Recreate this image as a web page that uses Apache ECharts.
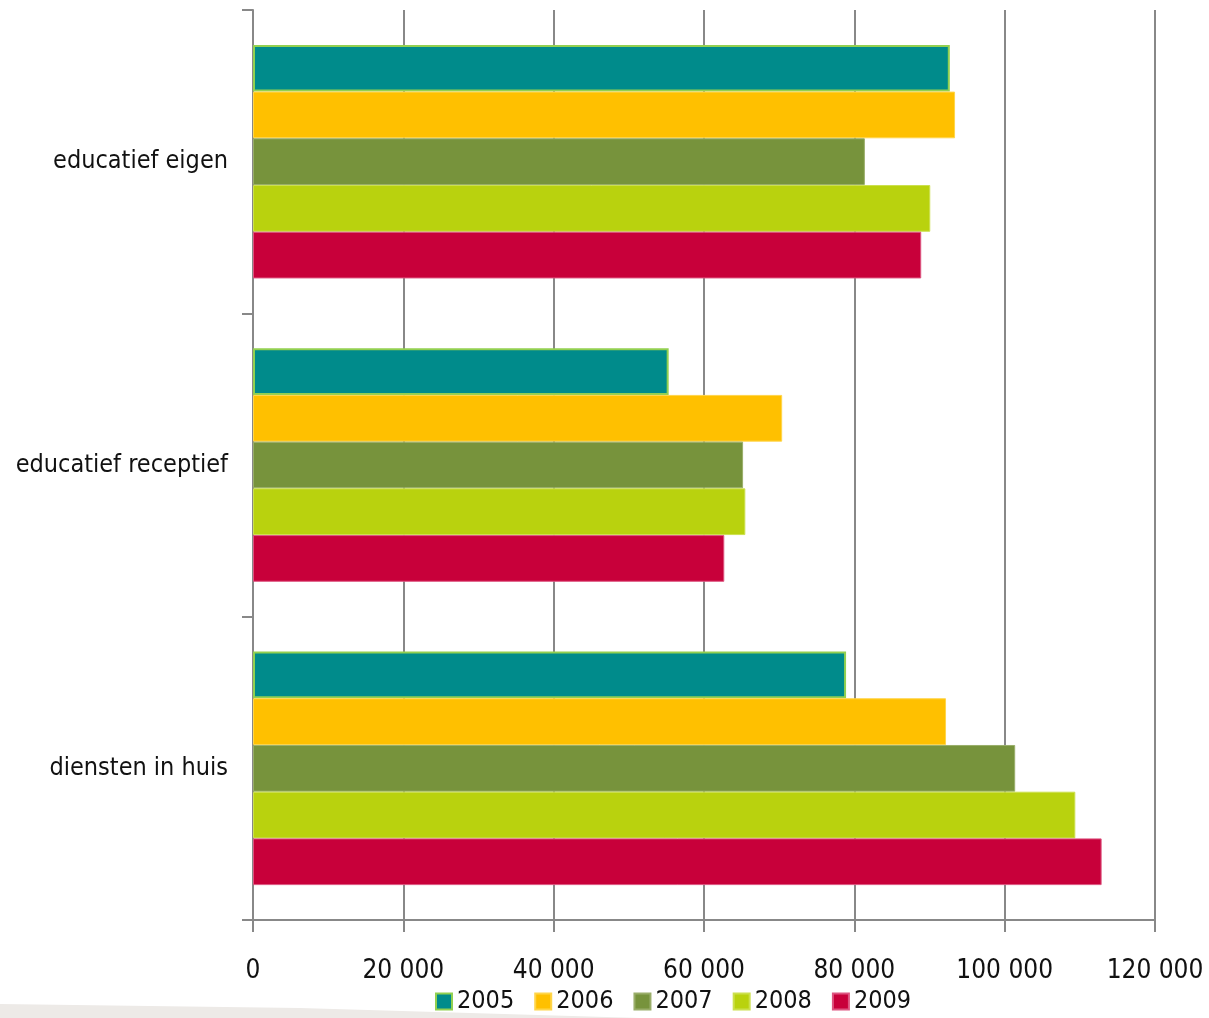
<!DOCTYPE html>
<html><head><meta charset="utf-8">
<script src="https://cdn.jsdelivr.net/npm/echarts@6/dist/echarts.min.js"></script>
<style>html,body{margin:0;padding:0;background:#fff}#c{width:1209px;height:1018px}</style>
</head><body><div id="c"></div>
<script>
const categories = ["educatief eigen", "educatief receptief", "diensten in huis"];
const years = ["2005", "2006", "2007", "2008", "2009"];
const v2005 = [92700, 55300, 78900];
const v2006 = [93400, 70400, 92200];
const v2007 = [81400, 65200, 101400];
const v2008 = [90100, 65500, 109400];
const v2009 = [88900, 62700, 112900];
const xTicks = [0, 20000, 40000, 60000, 80000, 100000, 120000];

const values = [v2005, v2006, v2007, v2008, v2009];
const colors = ["#008B8B", "#FFC000", "#77933C", "#B9D20E", "#C8003A"];
const borders = ["#92D050", "#FFD54A", "#9AAE6A", "#CCE04E", "#DD5580"];
const font = "'Liberation Sans Narrow', 'DejaVu Sans Condensed', 'Open Sans', sans-serif";
const axisGray = "#888888";

const chart = echarts.init(document.getElementById('c'), null, {renderer: 'canvas'});
chart.setOption({
  animation: false,
  backgroundColor: '#ffffff',
  textStyle: {fontFamily: font},
  graphic: [{
    type: 'polygon', z: -10, silent: true,
    shape: {points: [[0, 1004], [300, 1008], [640, 1018], [0, 1018]]},
    style: {fill: '#EDEAE7'}
  }],
  grid: {left: 253, right: 54, top: 10, bottom: 98, containLabel: false},
  legend: {
    bottom: -1, left: 430,
    itemWidth: 16, itemHeight: 16, itemGap: 20,
    icon: 'rect',
    textStyle: {fontSize: 25, color: '#111', fontFamily: font},
    data: years
  },
  xAxis: {
    type: 'value', min: 0, max: 120000, interval: 20000,
    axisLine: {show: true, lineStyle: {color: axisGray, width: 2}},
    axisTick: {show: true, length: 12, lineStyle: {color: axisGray, width: 2}},
    splitLine: {show: true, lineStyle: {color: axisGray, width: 2}},
    axisLabel: {
      margin: 38, fontSize: 26, color: '#111', fontFamily: font,
      formatter: function (v) { return String(v).replace(/\B(?=(\d{3})+(?!\d))/g, ' '); }
    }
  },
  yAxis: {
    type: 'category', data: categories, inverse: true,
    axisLine: {show: true, lineStyle: {color: axisGray, width: 2}},
    axisTick: {show: true, length: 11, lineStyle: {color: axisGray, width: 2}},
    axisLabel: {margin: 25, fontSize: 25, color: '#111', fontFamily: font, padding: [8, 0, 0, 0]}
  },
  series: years.map((y, i) => ({
    name: y, type: 'bar', data: values[i],
    barGap: '0%', barCategoryGap: '23%',
    itemStyle: {color: colors[i], borderColor: borders[i], borderWidth: i === 0 ? 2 : 1}
  }))
});
</script></body></html>
